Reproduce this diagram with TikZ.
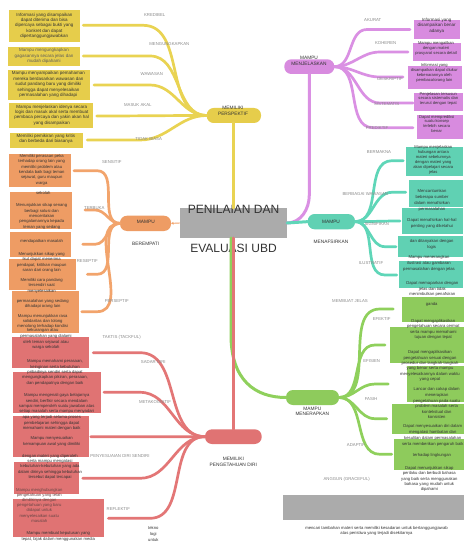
\documentclass[tikz,border=0pt]{standalone}
\usepackage{fontspec}
\setmainfont{Liberation Sans}
\usetikzlibrary{arrows.meta}
\definecolor{cyl}{HTML}{E9D352}
\definecolor{cyf}{HTML}{E6CD4B}
\definecolor{cpl}{HTML}{DA90E3}
\definecolor{cpf}{HTML}{D88BDF}
\definecolor{ctl}{HTML}{5FD6B8}
\definecolor{ctf}{HTML}{60D1B3}
\definecolor{cgl}{HTML}{8FD05C}
\definecolor{cgf}{HTML}{8ECB5C}
\definecolor{col}{HTML}{F2A46C}
\definecolor{cof}{HTML}{EE9C64}
\definecolor{crl}{HTML}{E37676}
\definecolor{crf}{HTML}{E07373}
\definecolor{cgray}{HTML}{ABABAB}
\definecolor{txtc}{HTML}{333333}
\definecolor{labc}{HTML}{8A8A8A}
\begin{document}
\begin{tikzpicture}[x=1pt,y=-1pt,
  bx/.style={inner sep=0pt, outer sep=0pt},
  tx/.style={inner sep=0pt, align=center, text=txtc, font=\fontsize{4.2}{5.3}\selectfont},
  txy/.style={inner sep=0pt, align=center, text=txtc, font=\fontsize{4.5}{5.4}\selectfont},
  lab/.style={inner sep=0pt, text=labc, font=\fontsize{4.3}{5}\selectfont},
  pill/.style={rounded corners=7pt, inner sep=0pt, outer sep=0pt},
  ptx/.style={inner sep=0pt, align=center, text=txtc, font=\fontsize{4.8}{5.8}\selectfont},
  br/.style={line width=2.7pt, line cap=round},
  tr/.style={line width=3pt, line cap=round}]
\useasboundingbox (0,0) rectangle (474,548);
\fill[white] (0,0) rectangle (474,548);

% ---------- central ----------
\node[bx, fill=cgray, minimum width=107pt, minimum height=30pt] (ctr) at (233.5,223) {};
\node[inner sep=0pt, text=txtc, font=\fontsize{12}{14}\selectfont] (tt) at (233.5,209.5) {PENILAIAN DAN};
\node[inner sep=0pt, text=txtc, font=\fontsize{12}{14}\selectfont] (tb) at (233.5,248.5) {EVALUASI UBD};

% ---------- pills ----------
\node[pill, fill=cyf, minimum width=54.3pt, minimum height=15pt] (yp) at (233.85,115.5) {};
\node[pill, fill=cpf, minimum width=50pt, minimum height=14.7pt] (pp) at (309.3,66.65) {};
\node[pill, fill=ctf, minimum width=47.3pt, minimum height=15.3pt] (tp) at (331.35,221.65) {};
\node[pill, fill=cgf, minimum width=53pt, minimum height=15pt] (gp) at (312.5,397.5) {};
\node[pill, fill=cof, minimum width=51pt, minimum height=15.3pt] (op) at (145.5,223.35) {};
\node[pill, fill=crf, minimum width=56.7pt, minimum height=14.7pt] (rp) at (233.35,436.65) {};

% ---------- trunks ----------
\draw[tr, cyl] (yp.south) -- (yp.south |- ctr.north);
\draw[tr, cpl] (pp.south) -- (309.3,195) to[out=-90,in=0] (ctr.east);
\draw[tr, ctl] (ctr.east) -- (tp.west);
\draw[col, line width=0.9pt, -{Latex[length=2.5pt,width=3pt]}] (ctr.west) -- (op.east);
\coordinate (gs) at (231,238);
\draw[tr, cgl] (gs) -- (231,335) .. controls (231,380) and (255,397.5) .. (gp.west);
\draw[tr, crl] (rp.north |- ctr.south) -- (rp.north);

% ---------- yellow branches ----------
\coordinate (ye1) at (83.3,25.3);
\coordinate (ye2) at (83.3,56);
\coordinate (ye3) at (94,85);
\coordinate (ye4) at (96.7,116);
\coordinate (ye5) at (87.3,140);
\draw[br, cyl] (ye1) -- (143,25.3) to[out=0,in=180] (yp.west);
\draw[br, cyl] (ye2) -- (150,56) to[out=0,in=180] (yp.west);
\draw[br, cyl] (ye3) -- (150,85) to[out=0,in=180] (yp.west);
\draw[br, cyl] (ye4) to[out=0,in=180] (yp.west);
\draw[br, cyl] (ye5) -- (140,140) to[out=0,in=180] (yp.west);

% ---------- purple branches ----------
\coordinate (pe1) at (410,29.5);
\coordinate (pe2) at (408,52);
\coordinate (pe3) at (403,77);
\coordinate (pe4) at (413,103);
\coordinate (pe5) at (413,127.7);
\draw[br, cpl] (pp.east) to[out=0,in=180] (367,29.5) -- (pe1);
\draw[br, cpl] (pp.east) to[out=0,in=180] (380,52) -- (pe2);
\draw[br, cpl] (pp.east) to[out=0,in=180] (380,77) -- (pe3);
\draw[br, cpl] (pp.east) to[out=0,in=180] (380,103) -- (pe4);
\draw[br, cpl] (pp.east) to[out=0,in=180] (373,127.7) -- (pe5);

% ---------- teal branches ----------
\coordinate (te1) at (403.3,160.7);
\coordinate (te2) at (405.7,192.3);
\coordinate (te3) at (400,221);
\coordinate (te4) at (396,246.7);
\coordinate (te5) at (396.7,275);
\draw[br, ctl] (tp.east) to[out=0,in=180] (392,160.7) -- (te1);
\draw[br, ctl] (tp.east) to[out=0,in=180] (392,192.3) -- (te2);
\draw[br, ctl] (tp.east) to[out=0,in=180] (te3);
\draw[br, ctl] (tp.east) to[out=0,in=180] (385,246.7) -- (te4);
\draw[br, ctl] (tp.east) to[out=0,in=180] (385,275) -- (te5);

% ---------- green branches ----------
\coordinate (ge1) at (393.3,309);
\coordinate (ge2) at (385,345);
\coordinate (ge3) at (388.3,384);
\coordinate (ge4) at (386.7,418.7);
\coordinate (ge5) at (391.7,454.3);
\draw[br, cgl] (gp.east) to[out=0,in=180] (380,309) -- (ge1);
\draw[br, cgl] (gp.east) to[out=0,in=180] (375,345) -- (ge2);
\draw[br, cgl] (gp.east) to[out=0,in=180] (375,384) -- (ge3);
\draw[br, cgl] (gp.east) to[out=0,in=180] (375,418.7) -- (ge4);
\draw[br, cgl] (gp.east) to[out=0,in=180] (380,454.3) -- (ge5);

% ---------- orange branches ----------
\coordinate (oe1) at (74,170.7);
\coordinate (oe2) at (85,210);
\coordinate (oe3) at (82.7,244.3);
\coordinate (oe4) at (87.3,274.3);
\coordinate (oe5) at (81.7,311.7);
\draw[br, col] (oe1) -- (97,170.7) to[out=0,in=180] (op.west);
\draw[br, col] (oe2) -- (95,210) to[out=0,in=180] (op.west);
\draw[br, col] (oe3) -- (95,244.3) to[out=0,in=180] (op.west);
\draw[br, col] (oe4) -- (97,274.3) to[out=0,in=180] (op.west);
\draw[br, col] (oe5) -- (97,311.7) to[out=0,in=180] (op.west);

% ---------- red branches ----------
\coordinate (re1) at (93.3,352.7);
\coordinate (re2) at (104,392.3);
\coordinate (re3) at (90.7,436.7);
\coordinate (re4) at (82.7,478.3);
\coordinate (re5) at (108.3,518.3);
\draw[br, crl] (re1) -- (140,352.7) to[out=0,in=180] (rp.west);
\draw[br, crl] (re2) -- (140,392.3) to[out=0,in=180] (rp.west);
\draw[br, crl] (re3) -- (rp.west);
\draw[br, crl] (re4) -- (140,478.3) to[out=0,in=180] (rp.west);
\draw[br, crl] (re5) -- (150,518.3) to[out=0,in=180] (rp.west);

% ---------- boxes ----------
\node[bx, fill=cyf, minimum width=71pt, minimum height=31.7pt] (yb1) at (44.5,25.85) {};
\node[bx, fill=cyf, minimum width=71.7pt, minimum height=19.3pt] (yb2) at (44.15,56.35) {};
\node[bx, fill=cyf, minimum width=81.7pt, minimum height=30pt] (yb3) at (49.15,85) {};
\node[bx, fill=cyf, minimum width=83.4pt, minimum height=25pt] (yb4) at (51,115.8) {};
\node[bx, fill=cyf, minimum width=73.3pt, minimum height=15pt] (yb5) at (46.65,140.2) {};

\node[bx, fill=cpf, minimum width=46pt, minimum height=19.3pt] (pb1) at (437,29.65) {};
\node[bx, fill=cpf, minimum width=48pt, minimum height=18.3pt] (pb2) at (436.7,51.85) {};
\node[bx, fill=cpf, minimum width=54pt, minimum height=22.7pt] (pb3) at (434.7,77.35) {};
\node[bx, fill=cpf, minimum width=48.7pt, minimum height=17.7pt] (pb4) at (438.35,102.15) {};
\node[bx, fill=cpf, minimum width=45.4pt, minimum height=23.4pt] (pb5) at (440,127) {};

\node[bx, fill=ctf, minimum width=56.7pt, minimum height=29.3pt] (tb1) at (434.35,161.35) {};
\node[bx, fill=ctf, minimum width=53.7pt, minimum height=26.7pt] (tb2) at (435.85,193.35) {};
\node[bx, fill=ctf, minimum width=60.4pt, minimum height=25.7pt] (tb3) at (432.5,221.15) {};
\node[bx, fill=ctf, minimum width=64.4pt, minimum height=20.7pt] (tb4) at (430.5,246.35) {};
\node[bx, fill=ctf, minimum width=64pt, minimum height=27.6pt] (tb5) at (431.3,274.5) {};

\node[bx, fill=cgf, minimum width=62.6pt, minimum height=25pt] (gb1) at (433,309.2) {};
\node[bx, fill=cgf, minimum width=74.3pt, minimum height=35.4pt] (gb2) at (427.15,345) {};
\node[bx, fill=cgf, minimum width=57.6pt, minimum height=35.7pt] (gb3) at (435.5,383.85) {};
\node[bx, fill=cgf, minimum width=72.6pt, minimum height=30.3pt] (gb4) at (428,419.15) {};
\node[bx, fill=cgf, minimum width=70.3pt, minimum height=30.7pt] (gb5) at (429.15,454.65) {};

\node[bx, fill=cof, minimum width=61.7pt, minimum height=33.3pt] (ob1) at (40.15,170.65) {};
\node[bx, fill=cof, minimum width=62.3pt, minimum height=37.3pt] (ob2) at (41.15,210.35) {};
\node[bx, fill=cof, minimum width=61pt, minimum height=25.6pt] (ob3) at (40.5,244.5) {};
\node[bx, fill=cof, minimum width=66.7pt, minimum height=31pt] (ob4) at (42.65,274.5) {};
\node[bx, fill=cof, minimum width=67.6pt, minimum height=42pt] (ob5) at (45.5,311.7) {};

\node[bx, fill=crf, minimum width=77.6pt, minimum height=30.4pt] (rb1) at (50.5,352.5) {};
\node[bx, fill=crf, minimum width=87.4pt, minimum height=41.6pt] (rb2) at (57,392.5) {};
\node[bx, fill=crf, minimum width=76pt, minimum height=41.6pt] (rb3) at (51.3,436.5) {};
\node[bx, fill=crf, minimum width=64.7pt, minimum height=32.6pt] (rb4) at (46.35,478) {};
\node[bx, fill=crf, minimum width=91pt, minimum height=37.4pt] (rb5) at (58.8,518) {};

\node[bx, fill=cgray, minimum width=180.7pt, minimum height=24.7pt] (gbot) at (373.65,507.65) {};

% ---------- pill texts ----------
\node[ptx] (ypt) at (233,110.7) {MEMILIKI\\PERSPEKTIF};
\node[ptx] (ppt) at (309,61) {MAMPU\\MENJELASKAN};
\node[ptx] (tpt) at (331,221.6) {MAMPU};
\node[ptx] (tpt2) at (331,241.7) {MENAFSIRKAN};
\node[ptx] (gpt) at (312.3,411.3) {MAMPU\\MENERAPKAN};
\node[ptx] (opt) at (145.8,221.7) {MAMPU};
\node[ptx] (opt2) at (145.7,244.3) {BEREMPATI};
\node[ptx] (rpt) at (233.3,461.7) {MEMILIKI\\PENGETAHUAN DIRI};

% ---------- labels ----------
\node[lab] (ly1) at (154.7,15) {KREDIBEL};
\node[lab] (ly2) at (169.3,44.3) {MENGUNGKAPKAN};
\node[lab] (ly3) at (151.8,74) {WAWASAN};
\node[lab] (ly4) at (137.8,105) {MASUK AKAL};
\node[lab] (ly5) at (148.7,139) {TIDAK BIASA};

\node[lab] (lp1) at (372.8,20.3) {AKURAT};
\node[lab] (lp2) at (385.7,43) {KOHEREN};
\node[lab] (lp3) at (390,79) {DESKRIPTIF};
\node[lab] (lp4) at (386.7,104) {SISTEMATIS};
\node[lab] (lp5) at (377,128) {PREDIKTIF};

\node[lab] (lt1) at (379,152) {BERMAKNA};
\node[lab] (lt2) at (365.3,194.3) {BERBAGAI WAWASAN};
\node[lab] (lt3) at (376.7,224.3) {SIGNIFIKAN};
\node[lab] (lt4) at (371,263.3) {ILUSTRATIF};

\node[lab] (lg0) at (350,301) {MEMBUAT JELAS};
\node[lab] (lg1) at (381.7,319) {EFEKTIF};
\node[lab] (lg2) at (371.7,361) {EFISIEN};
\node[lab] (lg3) at (371,399) {FASIH};
\node[lab] (lg4) at (356,445) {ADAPTIF};
\node[lab] (lg5) at (346.7,479.3) {ANGGUN (GRACEFUL)};

\node[lab] (lo1) at (111.7,161.7) {SENSITIF};
\node[lab] (lo2) at (94.3,208.3) {TERBUKA};
\node[lab] (lo3) at (87.3,261.3) {RESEPTIF};
\node[lab] (lo4) at (116.7,300.7) {PERSEPTIF};

\node[lab] (lr0) at (121.7,337.3) {TAKTIS (TACKFUL)};
\node[lab] (lr1) at (153.3,362.3) {SADAR DIRI};
\node[lab] (lr2) at (155,401.7) {METAKOGNITIF};
\node[lab] (lr3) at (120,456) {PENYESUAIAN DIRI SENDIRI};
\node[lab] (lr4) at (118.3,509) {REFLEKTIF};

% ---------- yellow texts ----------
\node[txy] (ty1) at (44.3,25.8) {Informasi yang disampaikan\\dapat diterima dan bisa\\dipercaya sebagai bukti yang\\konkret dan dapat\\dipertanggungjawabkan};
\node[txy, text=txtc!80] (ty2) at (44,56) {Mampu mengungkapkan\\gagasannya secara jelas dan\\mudah dipahami};
\node[txy] (ty3) at (48.3,84.5) {Mampu menyampaikan pemahaman\\mereka berdasarkan wawasan dan\\sudut pandang baru yang dimiliki\\sehingga dapat menyelesaikan\\permasalahan yang dihadapi};
\node[txy] (ty4) at (51.7,115) {Mampu menjelaskan idenya secara\\logis dan masuk akal serta membuat\\pembaca percaya dan yakin akan hal\\yang disampaikan};
\node[txy] (ty5) at (46,138.9) {Memiliki pemikiran yang kritis\\dan berbeda dari biasanya};

% ---------- purple texts ----------
\node[tx, font=\fontsize{4.5}{5.2}\selectfont] (tp1) at (436.7,25.8) {Informasi yang\\disampaikan benar\\adanya};
\node[tx, font=\fontsize{4.1}{5}\selectfont] (tp2) at (436,48.3) {Mampu mengaitkan\\dengan materi\\prasyarat secara detail};
\node[tx, font=\fontsize{4.1}{4.8}\selectfont] (tp3) at (434.3,73.1) {Informasi yang\\disampaikan dapat diukur\\kebenarannya oleh\\pembaca/orang lain};
\node[tx, font=\fontsize{4.1}{4.5}\selectfont] (tp4) at (438.3,98.8) {Penjelasan tersusun\\secara sistematis dan\\terurut dengan tepat};
\node[tx, font=\fontsize{4.1}{4.8}\selectfont] (tp5) at (436.7,123.9) {Dapat memprediksi\\suatu konsep\\terlebih secara\\benar};

% ---------- teal texts ----------
\node[tx, font=\fontsize{4.1}{5}\selectfont] (tt1) at (433.3,160) {Mampu menjelaskan\\hubungan antara\\materi sebelumnya\\dengan materi yang\\akan dipelajari secara\\jelas};
\node[tx, font=\fontsize{4.2}{6}\selectfont] (tt2) at (432,200) {Mencantumkan\\beberapa sumber\\dalam menafsirkan\\permasalahan};
\node[tx] (tt3) at (432,223.3) {Dapat menafsirkan hal-hal\\penting yang diketahui};
\node[tx] (tt4) at (431.7,244.5) {dan ditanyakan dengan\\logis};
\node[tx, font=\fontsize{4.2}{5.7}\selectfont] (tt5) at (429,263.3) {Mampu menerangkan\\ilustrasi atau gambaran\\permasalahan dengan jelas};
\node[tx, font=\fontsize{4.2}{5.7}\selectfont] (tt6) at (432.3,289) {Dapat memaparkan dengan\\jelas dan tidak\\menimbulkan penafsiran};

% ---------- green texts ----------
\node[tx] (tg0) at (431.7,304.3) {ganda};
\node[tx] (tg1) at (433.3,329.4) {Dapat mengaplikasikan\\pengetahuan secara cermat\\serta mampu memahami\\tujuan dengan tepat};
\node[tx] (tg2) at (430,366) {Dapat mengaplikasikan\\pengetahuan sesuai dengan\\prosedur dan langkah-langkah\\yang benar serta mampu\\menyelesaikannya dalam waktu\\yang cepat};
\node[tx, font=\fontsize{4.2}{5.6}\selectfont] (tg3) at (436.7,403.3) {Lancar dan cakap dalam\\menerapkan\\pengetahuan pada suatu\\problem masalah serta\\kontekstual dan\\konsisten};
\node[tx, font=\fontsize{4.2}{5.8}\selectfont] (tg4) at (432.7,435.3) {Dapat menyesuaikan diri dalam\\mengatasi hambatan dan\\kesulitan dalam permasalahan\\serta memberikan pengaruh baik};
\node[tx] (tg5) at (432,455) {terhadap lingkungan};
\node[tx] (tg6) at (429.3,479.1) {Dapat menunjukkan sikap\\perilaku dan berbudi bahasa\\yang baik serta menggunakan\\bahasa yang mudah untuk\\dipahami};

% ---------- orange texts ----------
\node[tx] (to1) at (41.7,169.7) {Memiliki perasaan peka\\terhadap orang lain yang\\memiliki problem atau\\kendala baik bagi teman\\sejawat, guru maupun\\warga};
\node[tx] (to1b) at (43.3,192.7) {sekolah};
\node[tx] (to2) at (41.7,216.5) {Menunjukkan sikap senang\\berbagi solusi dan\\menceritakan\\pengalamannya kepada\\teman yang sedang};
\node[tx] (to2b) at (41.7,241.7) {mendapatkan masalah};
\node[tx] (to3) at (41.7,262.3) {Menunjukkan sikap yang\\ikut dapat menerima\\pendapat, kritikan maupun\\saran dari orang lain};
\node[tx] (to4) at (41.7,285.8) {Memiliki cara pandang\\tersendiri saat\\menyelesaikan};
\node[tx] (to5) at (42.7,304.2) {permasalahan yang sedang\\dihadapi orang lain};
\node[tx, font=\fontsize{4.2}{4.8}\selectfont] (to6) at (42.7,323.7) {Mampu menunjukkan rasa\\solidaritas dan tolong\\menolong terhadap kondisi\\kekurangan atau};

% ---------- red texts ----------
\node[tx] (tr0) at (46,342) {permasalahan yang dialami\\oleh teman sejawat atau\\warga sekolah};
\node[tx] (tr1) at (55,372.5) {Mampu memahami perasaan,\\keinginan serta kebutuhan\\pribadinya sendiri serta dapat\\mengungkapkan pikiran, perasaan,\\dan pendapatnya dengan baik};
\node[tx] (tr2) at (56.7,403.8) {Mampu mengenali gaya belajarnya\\sendiri, berfikir secara mendalam\\sampai memperoleh suatu jawaban atas\\setiap masalah serta mampu menyadari};
\node[tx] (tr3) at (51.7,423) {apa yang terjadi selama proses\\pembelajaran sehingga dapat\\memahami materi dengan baik};
\node[tx, font=\fontsize{4.2}{6}\selectfont] (tr4) at (51.7,441.3) {Mampu menyesuaikan\\kemampuan awal yang dimiliki};
\node[tx] (tr5) at (50,466.8) {dengan materi yang diperoleh\\serta mampu mengatasi\\kebutuhan-kebutuhan yang ada\\dalam dirinya sehingga kebutuhan\\tersebut dapat tercapai};
\node[tx, text=txtc!70!crf, font=\fontsize{4.2}{5.1}\selectfont] (tr6) at (39.3,505.3) {Mampu menghubungkan\\pengetahuan yang telah\\dimilikinya dengan\\pengetahuan yang baru\\didapat untuk\\menyelesaikan suatu\\masalah};
\node[tx, font=\fontsize{4.2}{6}\selectfont] (tr7) at (58.3,536.3) {Mampu membuat keputusan yang\\tepat, bijak dalam menggunakan media};
\node[tx, font=\fontsize{4.2}{5.8}\selectfont] (tr8) at (153.3,534) {tekno\\logi\\untuk};
\node[tx] (tbot) at (376.5,531.2) {mencari tambahan materi serta memiliki kesadaran untuk bertanggungjawab\\atas peristiwa yang terjadi disekitarnya};
\end{tikzpicture}
\end{document}
